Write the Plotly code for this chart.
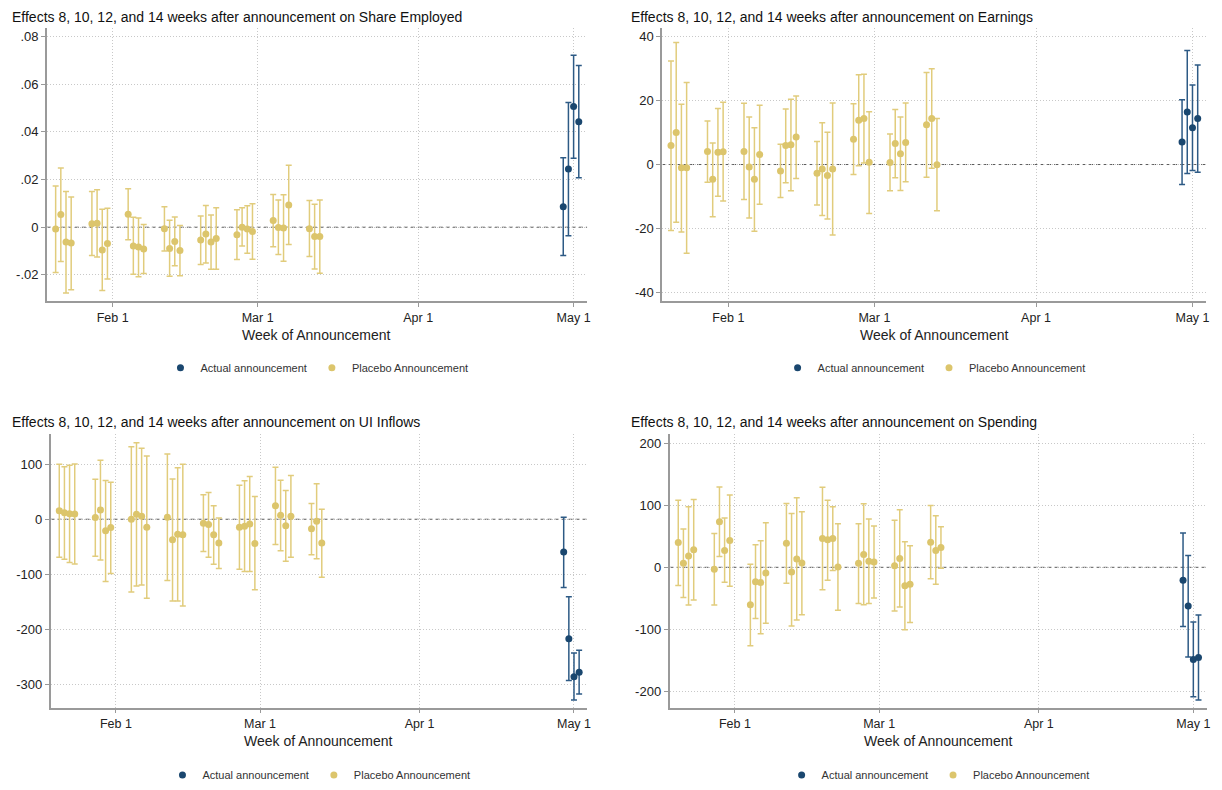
import plotly.graph_objects as go

# ---------------- data ----------------
# announcement weeks as day-of-year (centre of each group of four horizons)
placebo_days = [23, 30, 37, 44, 51, 58, 65, 72]
actual_day = 121
horizons = [8, 10, 12, 14]
x_tick_days = [32, 60, 91, 121]
x_tick_labels = ["Feb 1", "Mar 1", "Apr 1", "May 1"]

outcomes = ["Share Employed", "Earnings", "UI Inflows", "Spending"]

# Share Employed
emp_plac_est = [[-0.0008, 0.0053, -0.0062, -0.0066], [0.0015, 0.0017, -0.0096, -0.0068],
                [0.0054, -0.0079, -0.0083, -0.0091], [-0.0006, -0.0089, -0.0060, -0.0098],
                [-0.0054, -0.0029, -0.0062, -0.0047], [-0.0032, 0.0000, -0.0008, -0.0018],
                [0.0028, -0.0001, -0.0003, 0.0093], [-0.0006, -0.0039, -0.0039]]
emp_plac_hi = [[0.0173, 0.0249, 0.0150, 0.0127], [0.0150, 0.0157, 0.0075, 0.0080],
               [0.0161, 0.0042, 0.0039, 0.0011], [0.0086, 0.0029, 0.0043, 0.0007],
               [0.0047, 0.0091, 0.0051, 0.0082], [0.0073, 0.0082, 0.0090, 0.0098],
               [0.0137, 0.0114, 0.0136, 0.0260], [0.0112, 0.0096, 0.0114]]
emp_plac_lo = [[-0.0190, -0.0144, -0.0276, -0.0262], [-0.0119, -0.0125, -0.0266, -0.0217],
               [-0.0053, -0.0197, -0.0208, -0.0194], [-0.0100, -0.0206, -0.0162, -0.0204],
               [-0.0157, -0.0150, -0.0176, -0.0176], [-0.0136, -0.0079, -0.0109, -0.0134],
               [-0.0082, -0.0115, -0.0143, -0.0073], [-0.0123, -0.0175, -0.0193]]
emp_act_est = [0.0086, 0.0244, 0.0507, 0.0443]
emp_act_hi = [0.0292, 0.0524, 0.0722, 0.0679]
emp_act_lo = [-0.0119, -0.0036, 0.0290, 0.0208]

# Earnings
earn_plac_est = [[5.9, 10.0, -1.0, -1.0], [4.1, -4.6, 3.8, 4.0], [4.1, -0.8, -4.6, 3.1],
                 [-2.0, 5.9, 6.2, 8.6], [-2.7, -1.4, -3.4, -1.4], [7.9, 13.8, 14.4, 0.7],
                 [0.6, 6.6, 3.4, 6.9], [12.4, 14.4, -0.1]]
earn_plac_hi = [[32.3, 38.1, 18.8, 25.6], [13.6, 6.7, 17.5, 19.4], [19.1, 14.8, 11.5, 18.5],
                [6.3, 17.3, 20.4, 21.4], [7.2, 13.0, 10.1, 19.2], [19.0, 28.0, 28.2, 16.5],
                [9.5, 17.2, 14.8, 19.2], [28.7, 29.9, 14.4]]
earn_plac_lo = [[-20.6, -18.0, -21.1, -27.7], [-5.5, -16.3, -9.9, -11.4], [-10.9, -16.7, -20.8, -12.4],
                [-10.3, -5.7, -8.2, -4.4], [-12.6, -15.9, -17.0, -22.0], [-3.1, -0.4, 0.5, -15.3],
                [-8.2, -4.1, -8.1, -5.4], [-4.0, -1.2, -14.4]]
earn_act_est = [7.0, 16.4, 11.5, 14.4]
earn_act_hi = [20.2, 35.6, 24.8, 31.1]
earn_act_lo = [-6.2, -2.8, -1.9, -2.4]

# UI Inflows
ui_plac_est = [[15.6, 12.0, 10.2, 9.6], [3.0, 16.8, -21.0, -15.0], [0.0, 9.0, 5.4, -14.4],
               [3.6, -37.2, -27.0, -28.2], [-7.2, -9.6, -28.2, -43.2], [-14.4, -12.6, -8.4, -43.8],
               [24.6, 7.2, -12.0, 5.4], [-17.4, -3.6, -43.2]]
ui_plac_hi = [[99.7, 95.5, 97.9, 100.3], [72.7, 106.9, 70.3, 67.3], [131.5, 138.7, 129.1, 114.7],
              [118.3, 73.3, 93.7, 99.7], [44.4, 48.6, 24.6, 2.4], [61.9, 69.7, 77.5, 41.4],
              [94.3, 70.9, 52.3, 79.3], [28.8, 64.3, 18.0]]
ui_plac_lo = [[-69.1, -72.7, -78.7, -81.1], [-67.3, -73.9, -112.9, -98.5], [-132.1, -121.3, -119.5, -143.5],
              [-111.1, -148.3, -148.3, -157.4], [-58.3, -69.1, -81.7, -89.5], [-90.7, -94.9, -94.9, -127.9],
              [-45.6, -57.1, -76.3, -69.1], [-64.3, -71.5, -105.1]]
ui_act_est = [-59.5, -216.8, -285.9, -277.5]
ui_act_hi = [3.6, -140.5, -242.6, -237.8]
ui_act_lo = [-123.7, -292.5, -327.9, -317.1]

# Spending
sp_plac_est = [[39.9, 6.4, 18.1, 28.2], [-3.2, 73.5, 27.2, 43.1], [-60.2, -23.4, -24.5, -9.1],
               [38.9, -7.5, 13.3, 6.9], [46.3, 44.2, 46.3, 0.5], [6.4, 20.8, 9.6, 8.5],
               [2.7, 14.4, -29.8, -27.2], [40.5, 27.2, 32.0]]
sp_plac_hi = [[108.1, 61.8, 97.5, 109.2], [54.3, 129.4, 79.4, 116.6], [4.8, 36.2, 42.6, 71.9],
              [102.8, 86.8, 111.9, 89.5], [128.9, 108.1, 97.5, 70.3], [70.3, 102.3, 77.8, 66.6],
              [75.6, 92.7, 41.0, 34.6], [99.6, 83.1, 65.5]]
sp_plac_lo = [[-29.3, -48.5, -60.7, -52.7], [-60.7, 17.6, -24.0, -30.4], [-126.2, -82.6, -107.1, -90.0],
              [-25.6, -94.3, -84.7, -76.2], [-36.2, -20.8, -5.3, -69.2], [-58.1, -60.2, -58.1, -49.5],
              [-70.3, -63.9, -100.7, -88.9], [-18.6, -27.2, -1.6]]
sp_act_est = [-20.8, -62.3, -148.6, -145.4]
sp_act_hi = [55.4, 19.2, -87.9, -76.7]
sp_act_lo = [-95.3, -144.3, -208.3, -213.6]

y_tickvals = [[-0.02, 0, 0.02, 0.04, 0.06, 0.08], [-40, -20, 0, 20, 40],
              [-300, -200, -100, 0, 100], [-200, -100, 0, 100, 200]]
y_ticktext = [["-.02", "0", ".02", ".04", ".06", ".08"], ["-40", "-20", "0", "20", "40"],
              ["-300", "-200", "-100", "0", "100"], ["-200", "-100", "0", "100", "200"]]

# ---------------- layout constants ----------------
W, H = 1222, 790
HORIZON_OFFSET = [-2, -1, 0, 1]
NAVY = "#1a476f"
NAVY_BAR = "#2d5a85"
GOLD = "#dcc56c"
GOLD_BAR = "#e1cc7c"
FONT = "Liberation Sans, Arial, sans-serif"

panels = [
    dict(est=emp_plac_est, hi=emp_plac_hi, lo=emp_plac_lo, aest=emp_act_est, ahi=emp_act_hi, alo=emp_act_lo,
         px=(47, 589), py=(28.3, 304), yr=[-0.0311, 0.0836], title_xy=(10, 17), xt_y=338, leg_y=371),
    dict(est=earn_plac_est, hi=earn_plac_hi, lo=earn_plac_lo, aest=earn_act_est, ahi=earn_act_hi, alo=earn_act_lo,
         px=(664.3, 1210), py=(28.3, 304), yr=[-42.7, 42.6], title_xy=(631, 17), xt_y=338, leg_y=371),
    dict(est=ui_plac_est, hi=ui_plac_hi, lo=ui_plac_lo, aest=ui_act_est, ahi=ui_act_hi, alo=ui_act_lo,
         px=(50.7, 589.3), py=(438.3, 714), yr=[-342, 154], title_xy=(10, 426), xt_y=748, leg_y=782),
    dict(est=sp_plac_est, hi=sp_plac_hi, lo=sp_plac_lo, aest=sp_act_est, ahi=sp_act_hi, alo=sp_act_lo,
         px=(671.7, 1210.7), py=(438.3, 714), yr=[-226, 214], title_xy=(631, 426), xt_y=748, leg_y=782),
]

fig = go.Figure()
layout = dict(width=W, height=H, margin=dict(l=0, r=0, t=0, b=0),
              paper_bgcolor="white", plot_bgcolor="white",
              font=dict(family=FONT, color="#222222"), showlegend=True)
annotations = []
shapes = []

for i, p in enumerate(panels):
    n = i + 1
    sfx = "" if n == 1 else str(n)
    xa, ya = "x" + sfx, "y" + sfx
    leg = "legend" + sfx

    # placebo points
    px_, py_, ep, em = [], [], [], []
    for d, est, hi, lo in zip(placebo_days, p["est"], p["hi"], p["lo"]):
        for k in range(len(est)):
            px_.append(d + HORIZON_OFFSET[k])
            py_.append(est[k])
            ep.append(hi[k] - est[k])
            em.append(est[k] - lo[k])
    ax_, ay_, aep, aem = [], [], [], []
    for k in range(len(p["aest"])):
        ax_.append(actual_day + HORIZON_OFFSET[k])
        ay_.append(p["aest"][k])
        aep.append(p["ahi"][k] - p["aest"][k])
        aem.append(p["aest"][k] - p["alo"][k])

    fig.add_trace(go.Scatter(
        x=ax_, y=ay_, mode="markers", name="Actual announcement",
        marker=dict(color=NAVY, size=7),
        error_y=dict(type="data", symmetric=False, array=aep, arrayminus=aem,
                     color=NAVY_BAR, thickness=1.5, width=3),
        xaxis=xa, yaxis=ya, legend=leg))
    fig.add_trace(go.Scatter(
        x=px_, y=py_, mode="markers", name="Placebo Announcement",
        marker=dict(color=GOLD, size=7),
        error_y=dict(type="data", symmetric=False, array=ep, arrayminus=em,
                     color=GOLD_BAR, thickness=1.5, width=3),
        xaxis=xa, yaxis=ya, legend=leg))

    x0, x1 = p["px"]
    y0, y1 = p["py"]
    layout["xaxis" + sfx] = dict(
        domain=[x0 / W, x1 / W], anchor=ya, range=[19.3, 123.6],
        tickvals=x_tick_days, ticktext=x_tick_labels, ticks="outside", ticklen=4,
        tickcolor="#999999", showline=True, linecolor="#9a9a9a", linewidth=1.5,
        showgrid=True, gridcolor="#c8c8c8", griddash="1px,2px", gridwidth=1,
        zeroline=False, tickfont=dict(size=12.5, color="#222222"), fixedrange=True)
    layout["yaxis" + sfx] = dict(
        domain=[1 - y1 / H, 1 - y0 / H], anchor=xa, range=p["yr"],
        tickvals=y_tickvals[i], ticktext=y_ticktext[i], ticks="outside", ticklen=4,
        tickcolor="#999999", showline=True, linecolor="#9a9a9a", linewidth=1.5,
        showgrid=True, gridcolor="#c8c8c8", griddash="1px,2px", gridwidth=1,
        zeroline=False, tickfont=dict(size=13, color="#222222"), fixedrange=True)

    layout[leg] = dict(orientation="h", x=(x0 + x1) / 2 / W, xanchor="center",
                       y=1 - p["leg_y"] / H, yanchor="middle",
                       font=dict(size=11, color="#333333"), bgcolor="rgba(0,0,0,0)",
                       itemwidth=30, tracegroupgap=0)

    tx, ty = p["title_xy"]
    annotations.append(dict(
        text="Effects 8, 10, 12, and 14 weeks after announcement on " + outcomes[i],
        x=tx / W, y=1 - ty / H, xref="paper", yref="paper", xanchor="left", yanchor="middle",
        showarrow=False, font=dict(size=14, color="#111111")))
    annotations.append(dict(
        text="Week of Announcement", x=(x0 + x1) / 2 / W, y=1 - p["xt_y"] / H,
        xref="paper", yref="paper", xanchor="center", yanchor="middle",
        showarrow=False, font=dict(size=14, color="#222222")))

    shapes.append(dict(type="line", xref=xa + " domain", yref=ya, x0=0, x1=1, y0=0, y1=0,
                       line=dict(color="#5a5a5a", width=1, dash="4px,3px"), layer="below"))

layout["annotations"] = annotations
layout["shapes"] = shapes
fig.update_layout(**layout)
fig.write_html(
    "out.html",
    config={"displayModeBar": False},
    post_script="document.body.style.margin='0';document.body.style.overflow='hidden';",
)
